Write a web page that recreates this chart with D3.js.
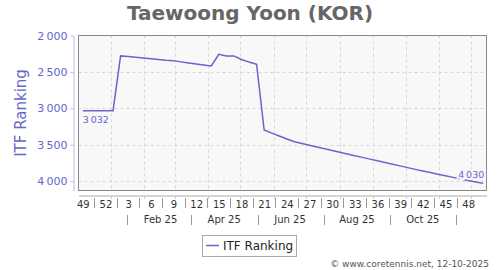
<!DOCTYPE html>
<html>
<head>
<meta charset="utf-8">
<script src="https://cdn.jsdelivr.net/npm/d3@7"></script>
<style>
  body { margin: 0; background: #fff; }
  svg { display: block; font-family: "DejaVu Sans", sans-serif; }
</style>
</head>
<body>
<div id="chart"></div>
<script>
// data
const firstWeek = "2024-12-06"
const ranks = [
  3032, 3032, 3032, 3032, 3032, 2280, 2288, 2298, 2308, 2318,
  2328, 2340, 2345, 2362, 2378, 2392, 2405, 2418, 2258, 2280,
  2280, 2330, 2365, 2395, 3298, 3340, 3380, 3420, 3459, 3484,
  3508, 3532, 3556, 3580, 3604, 3627, 3650, 3673, 3697, 3720,
  3743, 3767, 3790, 3814, 3838, 3860, 3882, 3904, 3926, 3948,
  3969, 3990, 4010, 4030
]
const weekTicks = [49, 52, 3, 6, 9, 12, 15, 18, 21, 24, 27, 30, 33, 36, 39, 42, 45, 48]
const monthLabels = ["Feb 25", "Apr 25", "Jun 25", "Aug 25", "Oct 25"]
const monthLabelDates = ["2025-02-16", "2025-04-16", "2025-06-16", "2025-08-17", "2025-10-17"]
const monthSepDates = ["2025-01-16", "2025-03-16", "2025-05-17", "2025-07-17", "2025-09-17", "2025-11-17"]
const yTicks = [2000, 2500, 3000, 3500, 4000]

const parse = d3.utcParse("%Y-%m-%d")
const start = parse(firstWeek)
const dataset = ranks.map((r, i) => ({date: d3.utcDay.offset(start, 7 * i), rank: r}))

const xAccessor = d => d.date
const yAccessor = d => d.rank

// dimensions
const dimensions = {
  width: 500,
  height: 270,
  left: 78.5,
  right: 486.5,
  top: 35.5,
  bottom: 190.5,
}

const blue = "#6666cc"
const fmt = d3.formatLocale({decimal: ".", thousands: "\u2009", grouping: [3], currency: ["", ""]}).format(",")

const svg = d3.select("#chart")
  .append("svg")
    .attr("width", dimensions.width)
    .attr("height", dimensions.height)

// scales
const xScale = d3.scaleUtc()
  .domain([parse("2024-12-02"), parse("2025-12-15")])
  .range([dimensions.left, dimensions.right])

const yScale = d3.scaleLinear()
  .domain([2000, 4128])
  .range([dimensions.top, dimensions.bottom])

// title
svg.append("text")
    .attr("x", 250)
    .attr("y", 20)
    .attr("text-anchor", "middle")
    .attr("font-size", 20)
    .attr("font-weight", "bold")
    .attr("fill", "#666")
    .text("Taewoong Yoon (KOR)")

// plot background
svg.append("rect")
    .attr("x", dimensions.left)
    .attr("y", dimensions.top)
    .attr("width", dimensions.right - dimensions.left)
    .attr("height", dimensions.bottom - dimensions.top)
    .attr("fill", "#f8f8f8")

// grid
const months = d3.utcMonth.range(parse("2025-01-01"), parse("2025-12-15"))
svg.append("g")
  .selectAll("line")
  .data(months)
  .join("line")
    .attr("x1", d => Math.round(xScale(d)) + 0.5)
    .attr("x2", d => Math.round(xScale(d)) + 0.5)
    .attr("y1", dimensions.top)
    .attr("y2", dimensions.bottom)
    .attr("stroke", "#d8d8d8")
    .attr("stroke-dasharray", "3,3")

svg.append("g")
  .selectAll("line")
  .data(yTicks.slice(1))
  .join("line")
    .attr("x1", dimensions.left)
    .attr("x2", dimensions.right)
    .attr("y1", d => Math.round(yScale(d)) + 0.5)
    .attr("y2", d => Math.round(yScale(d)) + 0.5)
    .attr("stroke", "#d8d8d8")
    .attr("stroke-dasharray", "3,3")

svg.append("rect")
    .attr("x", dimensions.left)
    .attr("y", dimensions.top)
    .attr("width", dimensions.right - dimensions.left)
    .attr("height", dimensions.bottom - dimensions.top)
    .attr("fill", "none")
    .attr("stroke", "#888")

// line
const lineGenerator = d3.line()
  .x(d => xScale(xAccessor(d)))
  .y(d => yScale(yAccessor(d)))

svg.append("path")
    .datum(dataset)
    .attr("d", lineGenerator)
    .attr("fill", "none")
    .attr("stroke", blue)
    .attr("stroke-width", 1.5)

// point labels
const first = dataset[0]
const last = dataset[dataset.length - 1]
svg.append("text")
    .attr("x", xScale(first.date))
    .attr("y", yScale(first.rank) + 12)
    .attr("font-size", 9.5)
    .attr("fill", blue)
    .text(fmt(first.rank))

svg.append("text")
    .attr("x", xScale(last.date) + 1)
    .attr("y", yScale(last.rank) - 5)
    .attr("text-anchor", "end")
    .attr("font-size", 9.5)
    .attr("fill", blue)
    .attr("stroke", "#f8f8f8")
    .attr("stroke-width", 4)
    .attr("paint-order", "stroke")
    .text(fmt(last.rank))

// y axis
const yAxis = svg.append("g")
    .attr("transform", "translate(73.5,0)")
    .call(d3.axisLeft(yScale).tickValues(yTicks).tickFormat(fmt).tickSize(3).tickSizeOuter(0).tickPadding(3))
yAxis.attr("font-family", null).attr("font-size", null)
yAxis.select(".domain").attr("stroke", "#b8b8e6")
yAxis.selectAll(".tick line").attr("stroke", "#b8b8e6")
yAxis.selectAll(".tick text").attr("fill", blue).attr("font-size", 11)

svg.append("text")
    .attr("transform", "translate(26,113) rotate(-90)")
    .attr("text-anchor", "middle")
    .attr("font-size", 15)
    .attr("fill", blue)
    .text("ITF Ranking")

// x axis (weeks)
const weekDates = weekTicks.map((w, i) => dataset[i * 3].date)
const xAxis = svg.append("g")
    .attr("transform", "translate(0,195.5)")
    .call(d3.axisBottom(xScale).tickValues(weekDates).tickFormat((d, i) => weekTicks[i]).tickSize(0).tickSizeOuter(0).tickPadding(5))
xAxis.attr("font-family", null).attr("font-size", null)
xAxis.select(".domain").attr("stroke", "#aaa")
xAxis.selectAll(".tick text").attr("fill", "#333").attr("font-size", 10)

svg.append("g")
  .selectAll("line")
  .data(months)
  .join("line")
    .attr("x1", d => Math.round(xScale(d)) + 0.5)
    .attr("x2", d => Math.round(xScale(d)) + 0.5)
    .attr("y1", 196)
    .attr("y2", 199)
    .attr("stroke", "#ccc")

const weekSeps = d3.pairs(weekDates).map(([a, b]) => new Date((+a + +b) / 2))
svg.append("g")
  .selectAll("line")
  .data(weekSeps)
  .join("line")
    .attr("x1", d => Math.round(xScale(d)) + 0.5)
    .attr("x2", d => Math.round(xScale(d)) + 0.5)
    .attr("y1", 198)
    .attr("y2", 208)
    .attr("stroke", "#999")

// x axis (months)
svg.append("g")
  .selectAll("text")
  .data(monthLabels)
  .join("text")
    .attr("x", (d, i) => xScale(parse(monthLabelDates[i])))
    .attr("y", 223)
    .attr("text-anchor", "middle")
    .attr("font-size", 10)
    .attr("fill", "#333")
    .text(d => d)

svg.append("g")
  .selectAll("line")
  .data(monthSepDates.map(parse))
  .join("line")
    .attr("x1", d => Math.round(xScale(d)) + 0.5)
    .attr("x2", d => Math.round(xScale(d)) + 0.5)
    .attr("y1", 215)
    .attr("y2", 225)
    .attr("stroke", "#999")

// legend
const legend = svg.append("g")
legend.append("rect")
    .attr("x", 202.5)
    .attr("y", 235.5)
    .attr("width", 94)
    .attr("height", 21)
    .attr("fill", "#fff")
    .attr("stroke", "#aaa")
legend.append("line")
    .attr("x1", 206)
    .attr("x2", 219)
    .attr("y1", 245.5)
    .attr("y2", 245.5)
    .attr("stroke", blue)
    .attr("stroke-width", 1.5)
legend.append("text")
    .attr("x", 223)
    .attr("y", 250)
    .attr("font-size", 12)
    .attr("fill", "#222")
    .text("ITF Ranking")

// credit
svg.append("text")
    .attr("x", 489)
    .attr("y", 267)
    .attr("text-anchor", "end")
    .attr("font-size", 9)
    .attr("fill", "#555")
    .text("© www.coretennis.net, 12-10-2025")
</script>
</body>
</html>
